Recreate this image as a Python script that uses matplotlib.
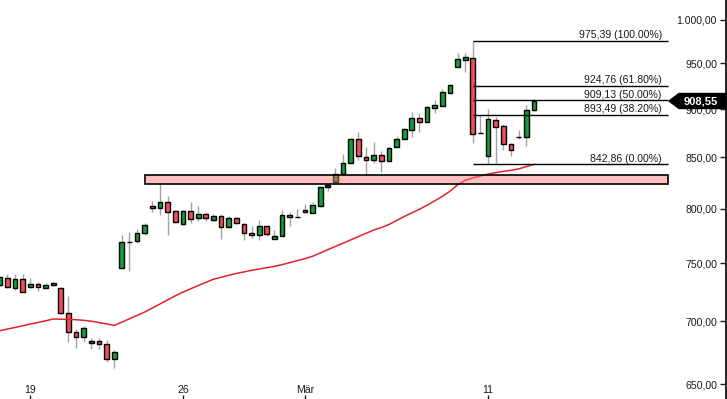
import numpy as np
import matplotlib
matplotlib.use("Agg")
import matplotlib.pyplot as plt
from matplotlib.patches import Polygon, Rectangle
from matplotlib.ticker import NullLocator

plt.rcParams['font.family'] = ['Liberation Sans', 'DejaVu Sans']

# ---------------- data ----------------
opens = [731.2, 737.2, 728.3, 736.4, 729.4, 731.4, 728.6, 730.6, 728.0, 706.7,
         691.3, 687.0, 682.3, 684.2, 681.2, 669.8, 745.9, 769.2, 770.1, 776.9,
         802.1, 800.3, 805.9, 797.3, 785.2, 797.3, 790.8, 794.6, 789.0, 792.7,
         782.4, 790.8, 785.5, 776.9, 775.1, 783.4, 771.4, 774.2, 793.7, 792.3,
         799.0, 796.1, 802.7, 820.4, 825.3, 833.1, 844.0, 868.3, 850.0, 847.0,
         852.0, 846.0, 860.8, 868.3, 877.6, 890.2, 886.0, 901.4, 903.6, 917.6,
         946.2, 954.1, 955.7, 874.5, 851.6, 888.1, 882.1, 863.2, 871.0, 871.0,
         899.0]
highs = [739.0, 740.7, 740.7, 740.1, 737.2, 733.2, 732.6, 733.8, 729.4, 721.4,
         693.7, 696.2, 686.6, 686.6, 684.7, 676.4, 775.4, 778.4, 780.6, 786.2,
         807.2, 823.6, 812.0, 799.0, 799.0, 806.2, 802.4, 797.0, 795.2, 794.6,
         793.0, 791.6, 786.2, 783.6, 789.0, 783.4, 779.6, 798.4, 796.4, 799.6,
         804.1, 806.5, 821.7, 824.3, 839.0, 853.3, 870.0, 875.9, 860.5, 865.3,
         856.4, 860.5, 871.7, 879.8, 896.8, 895.5, 903.6, 909.7, 921.9, 927.4,
         961.4, 962.0, 975.39, 893.7, 900.0, 891.5, 884.2, 864.9, 877.9, 904.3,
         910.5]
lows = [730.0, 727.8, 726.3, 724.6, 728.6, 725.8, 728.1, 730.0, 705.9, 682.9,
        678.1, 683.4, 677.5, 677.3, 666.9, 662.7, 745.9, 743.3, 768.3, 775.1,
        797.0, 794.2, 775.4, 786.2, 784.6, 786.2, 788.6, 788.6, 788.0, 772.0,
        781.6, 785.2, 770.5, 772.9, 771.1, 774.2, 771.4, 774.2, 783.4, 792.3,
        795.7, 795.7, 801.8, 817.1, 825.3, 833.1, 844.0, 847.6, 832.4, 844.0,
        835.1, 846.0, 860.1, 868.3, 871.0, 876.2, 886.0, 896.1, 903.6, 917.0,
        946.2, 940.6, 864.9, 874.5, 842.86, 844.6, 857.4, 851.4, 869.0, 861.5,
        897.9]
closes = [737.8, 729.4, 736.4, 725.2, 731.4, 728.8, 730.6, 732.9, 706.7, 691.3,
          687.0, 694.3, 684.2, 681.2, 669.8, 675.1, 768.6, 769.2, 776.9, 784.3,
          800.3, 805.9, 797.0, 787.7, 797.3, 789.9, 794.6, 790.8, 792.7, 782.4,
          790.8, 786.2, 776.9, 775.1, 783.4, 776.0, 774.2, 793.7, 791.8, 792.3,
          796.4, 803.1, 820.4, 822.3, 833.1, 844.0, 868.3, 851.0, 847.0, 852.0,
          846.0, 859.2, 868.3, 878.7, 890.2, 886.0, 901.8, 904.0, 918.0, 925.6,
          954.9, 957.1, 874.1, 874.5, 889.4, 881.4, 863.2, 857.7, 871.0, 899.0,
          908.55]
moving_avg = [692.3, 693.7, 695.0, 696.4, 697.8, 699.1, 700.5, 702.0, 701.8, 701.7,
              701.4, 700.9, 700.2, 699.0, 697.9, 696.7, 699.4, 702.2, 705.0, 707.8,
              711.2, 714.6, 718.1, 721.5, 724.7, 727.5, 730.3, 733.1, 735.8, 737.5,
              739.2, 740.9, 742.2, 743.6, 744.8, 745.9, 747.1, 748.6, 750.4, 752.2,
              754.0, 756.1, 759.0, 762.0, 765.0, 767.9, 770.9, 773.9, 776.9, 779.9,
              782.2, 785.0, 788.7, 792.5, 795.9, 799.3, 803.2, 807.3, 811.6, 816.5,
              822.8, 827.1, 829.5, 831.5, 833.3, 834.7, 836.0, 837.0, 838.4, 840.7,
              842.9]

x_tick_pos = [4, 24, 40, 64]
x_tick_labels = ['19', '26', 'Mär', '11']
y_ticks = [650, 700, 750, 800, 850, 900, 950, 1000]
y_tick_labels = ['650,00', '700,00', '750,00', '800,00', '850,00', '900,00', '950,00', '1.000,00']

fib_levels = [975.39, 924.76, 909.13, 893.49, 842.86]
fib_labels = ['975,39 (100.00%)', '924,76 (61.80%)', '909,13 (50.00%)',
              '893,49 (38.20%)', '842,86 (0.00%)']
zone_low, zone_high = 823.3, 832.4
last_price_label = '908,55'

# ---------------- figure ----------------
fig = plt.figure(figsize=(7.27, 3.99), dpi=100)
ax = fig.add_axes([0, 0, 726 / 727, 1])
ax.set_yscale('log')
x_left, x_right = 0.03, 95.18
ax.set_xlim(x_left, x_right)
ax.set_ylim(638.6, 1023.9)

n = len(opens)
xs = np.arange(n)
o = np.array(opens); c = np.array(closes)
h = np.array(highs); l = np.array(lows)

GREEN = '#139c39'
RED = '#f04e5a'
colors = [GREEN if cc > oo else (RED if cc < oo else 'black') for oo, cc in zip(o, c)]

# wicks
ax.vlines(xs, l, h, color='#a3a3a3', lw=1.0, zorder=2)
# bodies
bottoms = np.minimum(o, c)
heights = np.abs(c - o)
ax.bar(xs, heights, bottom=bottoms, width=0.62, color=colors,
       edgecolor='black', linewidth=1.0, zorder=3)

# moving average
ax.plot(xs, moving_avg, color='#e0242a', lw=1.1, zorder=4)

# support zone
zone_start = 19
fib_end = 87.58
ax.add_patch(Rectangle((zone_start, zone_low), fib_end - zone_start, zone_high - zone_low,
                       facecolor=(1.0, 0.45, 0.45, 0.45), edgecolor='none', zorder=4.5))
ax.add_patch(Rectangle((zone_start, zone_low), fib_end - zone_start, zone_high - zone_low,
                       facecolor='none', edgecolor='black', lw=1.2, zorder=4.6))

# fibonacci retracement
fib_start = int(np.argmax(h))
ax.hlines(fib_levels, fib_start, fib_end, color='black', lw=1.0, zorder=4)
for lev, lab in zip(fib_levels, fib_labels):
    ax.annotate(lab, xy=(fib_end, lev), xytext=(-4.5, 0.5), textcoords='offset points',
                ha='right', va='bottom', fontsize=7.6, color='#1a1a1a', zorder=6)

# axes styling
for s in ['top', 'left', 'bottom']:
    ax.spines[s].set_visible(False)
ax.spines['right'].set_color('black')
ax.spines['right'].set_linewidth(1.2)

ax.yaxis.tick_right()
ax.set_yticks(y_ticks)
ax.set_yticklabels(y_tick_labels)
ax.yaxis.set_minor_locator(NullLocator())
ax.tick_params(axis='y', direction='in', length=4, width=1, pad=-6.5,
               labelsize=7.6, labelcolor='#1a1a1a', colors='#1a1a1a')
for t in ax.get_yticklabels():
    t.set_horizontalalignment('right')

ax.set_xticks(x_tick_pos)
ax.set_xticklabels(x_tick_labels)
ax.tick_params(axis='x', direction='in', length=3, width=1, pad=-10,
               labelsize=7.6, labelcolor='#1a1a1a', colors='#1a1a1a')

# last price marker
xr, yc = ax.transData.transform((x_right, closes[-1]))
verts_disp = [(xr - 57, yc), (xr - 47, yc + 7.5), (xr, yc + 7.5), (xr, yc - 7.5), (xr - 47, yc - 7.5)]
verts = ax.transData.inverted().transform(verts_disp)
ax.add_patch(Polygon(verts, closed=True, facecolor='black', edgecolor='black',
                     clip_on=False, zorder=7))
tx, _ = ax.transData.inverted().transform((xr - 25, yc))
ax.text(tx, closes[-1], last_price_label, ha='center', va='center', color='white',
        fontsize=8, fontweight='bold', zorder=8, clip_on=False)

fig.savefig('out.png', dpi=100)
